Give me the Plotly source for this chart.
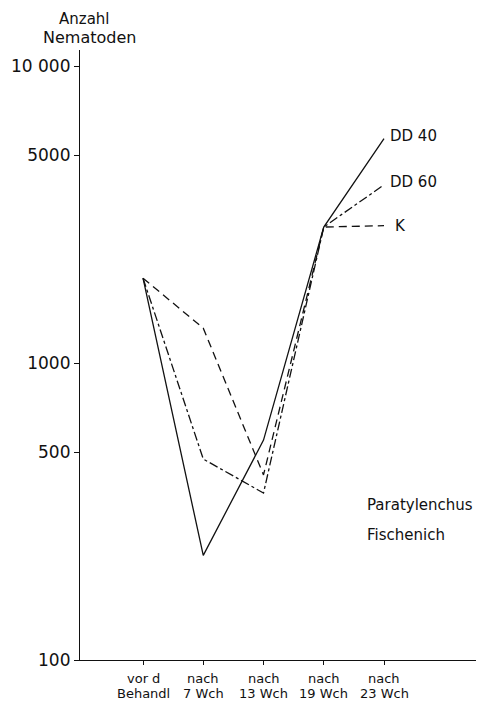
import math
import plotly.graph_objects as go

cat_line1 = ["vor d", "nach", "nach", "nach", "nach"]
cat_line2 = ["Behandl", "7 Wch", "13 Wch", "19 Wch", "23 Wch"]
x_pos = [0, 1, 2, 3, 4]
dd40 = [1930, 225, 550, 2870, 5700]
dd60 = [1930, 475, 365, 2870, 3980]
k_vals = [1930, 1310, 420, 2870, 2900]
series_names = ["DD 40", "DD 60", "K"]
y_tickvals = [100, 500, 1000, 5000, 10000]
y_ticktext = ["100", "500", "1000", "5000", "10 000"]

FONT = "DejaVu Sans"
INK = "#111111"

fig = go.Figure()
styles = ["solid", "dashdot", "8px,5px"]
label_xshift = [4, 4, 9]
label_yshift = [3, 3, 0]
for name, vals, dash, xs, ys in zip(series_names, [dd40, dd60, k_vals], styles,
                                    label_xshift, label_yshift):
    fig.add_trace(go.Scatter(x=x_pos, y=vals, mode="lines", name=name,
                             line=dict(color=INK, width=1.3, dash=dash),
                             showlegend=False))
    fig.add_annotation(x=x_pos[-1], y=math.log10(vals[-1]), yref="y", xref="x",
                       text=name, showarrow=False, xanchor="left", yanchor="middle",
                       xshift=xs, yshift=ys,
                       font=dict(family=FONT, size=15, color=INK))

# two-line category labels under the x axis
for xp, l1, l2 in zip(x_pos, cat_line1, cat_line2):
    fig.add_annotation(x=xp, xref="x", y=0, yref="paper", text=l1, showarrow=False,
                       xanchor="center", yanchor="middle", yshift=-18,
                       font=dict(family=FONT, size=13, color=INK))
    fig.add_annotation(x=xp, xref="x", y=0, yref="paper", text=l2, showarrow=False,
                       xanchor="center", yanchor="middle", yshift=-33,
                       font=dict(family=FONT, size=13, color=INK))

fig.add_annotation(xref="paper", yref="paper", x=0.0125, y=1.0505, text="Anzahl",
                   xanchor="center", yanchor="middle",
                   showarrow=False, font=dict(family=FONT, size=15, color=INK))
fig.add_annotation(xref="paper", yref="paper", x=0.025, y=1.0197, text="Nematoden",
                   xanchor="center", yanchor="middle",
                   showarrow=False, font=dict(family=FONT, size=16, color=INK))
fig.add_annotation(xref="paper", yref="paper", x=0.72, y=0.254, text="Paratylenchus",
                   xanchor="left", yanchor="middle",
                   showarrow=False, font=dict(family=FONT, size=15, color=INK))
fig.add_annotation(xref="paper", yref="paper", x=0.72, y=0.205, text="Fischenich",
                   xanchor="left", yanchor="middle",
                   showarrow=False, font=dict(family=FONT, size=15, color=INK))

fig.update_layout(
    width=468, height=694,
    margin=dict(l=72, r=0, t=42, b=42),
    paper_bgcolor="white", plot_bgcolor="white",
    font=dict(family=FONT, color=INK),
)
fig.update_xaxes(range=[-1.046, 5.527], tickvals=x_pos, ticktext=["", "", "", "", ""],
                 showgrid=False, zeroline=False, showline=True, linecolor=INK,
                 linewidth=1.2, ticks="outside", ticklen=4, tickcolor=INK)
fig.update_yaxes(type="log", range=[2, 4.054], tickvals=y_tickvals, ticktext=y_ticktext,
                 showgrid=False, zeroline=False, showline=True, linecolor=INK,
                 linewidth=1.2, ticks="outside", ticklen=5, tickcolor=INK,
                 tickfont=dict(family=FONT, size=17, color=INK))

fig.write_html("out.html")
